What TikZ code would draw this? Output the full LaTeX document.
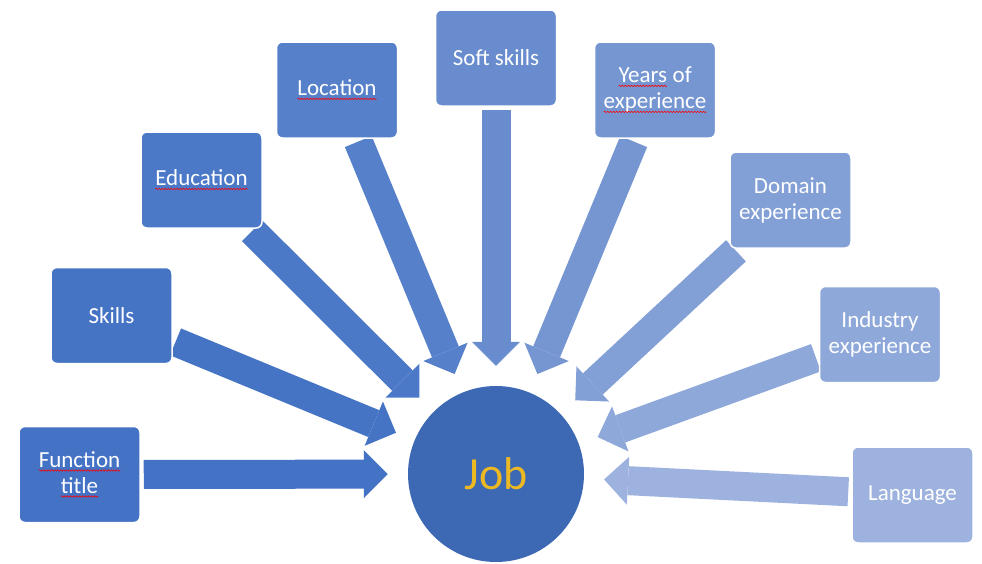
\documentclass[tikz,border=0pt]{standalone}
\usepackage{fontspec}
\setmainfont{Carlito}
\usetikzlibrary{arrows.meta,backgrounds,decorations.pathmorphing}

\definecolor{c1}{RGB}{68,114,196}
\definecolor{c2}{RGB}{70,116,197}
\definecolor{c3}{RGB}{75,120,199}
\definecolor{c4}{RGB}{86,128,201}
\definecolor{c5}{RGB}{104,140,205}
\definecolor{c6}{RGB}{118,150,210}
\definecolor{c7}{RGB}{130,159,214}
\definecolor{c8}{RGB}{142,168,218}
\definecolor{c9}{RGB}{157,178,222}
\definecolor{jobfill}{RGB}{61,104,180}
\definecolor{jobtext}{RGB}{237,185,35}

% red spell-check wave under a word
\newcommand{\typo}[1]{\tikz[baseline=(w.base)]{%
  \node[rectangle, draw=none, fill=none, inner sep=0pt, outer sep=0pt,
    minimum width=0pt, minimum height=0pt, text=white] (w) {#1};
  \draw[red, line width=0.6pt, rounded corners=0pt, decorate,
    decoration={snake, amplitude=0.7pt, segment length=3pt}]
    ([yshift=-3pt]w.base west) -- ([yshift=-3pt]w.base east);}}

\tikzset{
  factor/.style={rectangle, rounded corners=6pt, fill=#1, draw=white, line width=1.5pt,
    minimum width=121pt, minimum height=96pt, inner sep=2pt, align=center,
    text=white, font=\fontsize{23}{26}\selectfont},
  pull/.style={draw=#1, line width=29pt, shorten <=3pt, shorten >=20pt,
    -{Triangle[length=24pt, width=48pt, line width=0pt]}},
}

\begin{document}
\begin{tikzpicture}[x=1pt, y=-1pt]
            \useasboundingbox (0, 0) rectangle (982, 563);

            \node[circle, fill=jobfill, minimum size=176pt, inner sep=0pt, text=jobtext,
              font=\fontsize{46}{50}\selectfont] (job) at (496, 474) {Job};

            \node[factor=c1] (function) at (79.5, 474.5) {\typo{Function}\\\typo{title}};
            \node[factor=c2] (skills) at (111.5, 315.5) {Skills};
            \node[factor=c3] (education) at (201.5, 180) {\typo{Education}};
            \node[factor=c4] (location) at (337, 90) {\typo{Location}};
            \node[factor=c5] (soft) at (496, 58) {Soft skills};
            \node[factor=c6] (years) at (655, 90) {\typo{Years} of\\\typo{experience}};
            \node[factor=c7] (domain) at (790.5, 200) {Domain\\experience};
            \node[factor=c8] (industry) at (880, 334.5) {Industry\\experience};
            \node[factor=c9] (language) at (912.5, 495) {Language};

            \begin{scope}[on background layer]
              \draw[pull=c1] (function) -- (job);
              \draw[pull=c2] (skills) -- (job);
              \draw[pull=c3] (education) -- (job);
              \draw[pull=c4] (location) -- (job);
              \draw[pull=c5] (soft) -- (job);
              \draw[pull=c6] (years) -- (job);
              \draw[pull=c7] (domain) -- (job);
              \draw[pull=c8] (industry) -- (job);
              \draw[pull=c9] (language) -- (job);
            \end{scope}
        \end{tikzpicture}
\end{document}
